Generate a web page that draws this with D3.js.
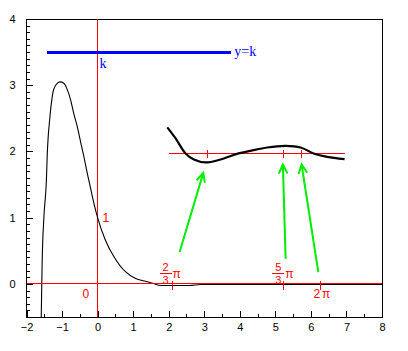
<!DOCTYPE html>
<html lang="en">
<head>
    <meta charset="UTF-8">
    <title>y=k</title>
    <script src="https://d3js.org/d3.v7.min.js"></script>
    <style>
        body { margin: 0; background: #fff; }
        .tick text { font-family: "Liberation Sans", Arial, sans-serif; font-size: 11px; fill: #000; }
        .tick line, .crisp { shape-rendering: crispEdges; }
        .red-label { font-family: "Liberation Sans", Arial, sans-serif; fill: red; }
        .blue-label { font-family: "Liberation Serif", "Times New Roman", serif; fill: blue; font-size: 14px; }
    </style>
</head>
<body>
    <svg width="408" height="351"></svg>
    <script>
        // main curve
        const curveX = [-1.585, -1.57, -1.56, -1.51, -1.44, -1.415, -1.39, -1.35, -1.30, -1.26, -1.18, -1.06, -0.95, -0.85, -0.76, -0.67, -0.57, -0.48, -0.385, -0.29, -0.2, -0.1, 0, 0.22, 0.46, 0.79, 1.07, 1.35, 1.55, 1.78, 2.1, 2.59, 2.9, 4, 6, 8];
        const curveY = [-0.5, 0, 0.31, 1.01, 1.57, 1.97, 2.22, 2.47, 2.73, 2.88, 3.0, 3.05, 3.03, 2.93, 2.78, 2.57, 2.37, 2.15, 1.92, 1.67, 1.45, 1.21, 1.0, 0.66, 0.41, 0.18, 0.08, 0.04, 0.01, -0.025, -0.025, -0.025, -0.01, -0.01, -0.01, -0.01];
        // magnified tail (inset)
        const insetX = [1.96, 2.194, 2.475, 2.709, 3.038, 3.46, 3.966, 4.30, 4.77, 5.288, 5.71, 6.076, 6.46, 6.948];
        const insetY = [2.363, 2.197, 1.970, 1.879, 1.834, 1.879, 1.970, 2.009, 2.06, 2.085, 2.06, 1.970, 1.918, 1.884];
        const insetLine = { x0: 2.0, x1: 6.95, y: 1.966 };
        const insetTicks = [3.086, 5.24, 5.73];
        // y = k line
        const kLine = { x0: -1.415, x1: 3.76, y: 3.5 };
        // special x positions on the axis: 2π/3, 5π/3, 2π
        const piTicks = [2 * Math.PI / 3, 5 * Math.PI / 3, 2 * Math.PI];
        // green arrows: tail -> head
        const arrows = [
            { x0: 2.307, y0: 0.481, x1: 2.973, y1: 1.676 },
            { x0: 5.289, y0: 0.381, x1: 5.212, y1: 1.803 },
            { x0: 6.208, y0: 0.179, x1: 5.738, y1: 1.803 }
        ];
        const xMajor = [-2, -1, 0, 1, 2, 3, 4, 5, 6, 7, 8];
        const xMinor = d3.range(-1.5, 8, 1);
        const yMajor = [0, 1, 2, 3, 4];
        const yMinor = d3.range(-0.5, 4.001, 0.1).map(v => +v.toFixed(1)).filter(v => !yMajor.includes(v));

        const svg = d3.select("svg");
        const x = d3.scaleLinear().domain([-2, 8]).range([26.5, 382]);
        const y = d3.scaleLinear().domain([-0.5, 4]).range([317, 19]);

        // axes
        svg.append("g")
            .attr("transform", "translate(0,317)")
            .call(d3.axisBottom(x).tickValues(xMajor).tickSize(-6).tickPadding(6).tickFormat(d3.format("d")))
            .call(g => g.select(".domain").remove());
        svg.append("g")
            .attr("transform", "translate(0,317)")
            .call(d3.axisBottom(x).tickValues(xMinor).tickSize(-3).tickFormat(""))
            .call(g => g.select(".domain").remove());
        svg.append("g")
            .attr("transform", "translate(26.5,0)")
            .call(d3.axisLeft(y).tickValues(yMajor).tickSize(-6).tickPadding(11).tickFormat(d3.format("d")))
            .call(g => g.select(".domain").remove());
        svg.append("g")
            .attr("transform", "translate(26.5,0)")
            .call(d3.axisLeft(y).tickValues(yMinor).tickSize(-3).tickFormat(""))
            .call(g => g.select(".domain").remove());

        svg.append("rect").attr("class", "crisp")
            .attr("x", x(-2)).attr("y", y(4))
            .attr("width", x(8) - x(-2)).attr("height", y(-0.5) - y(4))
            .attr("fill", "none").attr("stroke", "#000").attr("stroke-width", 1);

        // red coordinate axes
        svg.append("line").attr("class", "crisp")
            .attr("x1", x(0)).attr("x2", x(0)).attr("y1", y(4)).attr("y2", y(-0.5))
            .attr("stroke", "red");
        const line = d3.line().x(d => x(d[0])).y(d => y(d[1])).curve(d3.curveMonotoneX);

        // main curve
        svg.append("path")
            .datum(d3.zip(curveX, curveY))
            .attr("d", line)
            .attr("fill", "none").attr("stroke", "#000").attr("stroke-width", 1.1);

        svg.append("line").attr("class", "crisp")
            .attr("x1", x(-2)).attr("x2", x(8)).attr("y1", y(0)).attr("y2", y(0))
            .attr("stroke", "red");

        // ticks at 2π/3, 5π/3, 2π
        svg.selectAll(".pi-tick")
            .data(piTicks)
            .enter().append("line").attr("class", "crisp")
            .attr("x1", d => x(d)).attr("x2", d => x(d))
            .attr("y1", y(0) - 3).attr("y2", y(0) + 6)
            .attr("stroke", "red");

        // inset
        svg.append("line").attr("class", "crisp")
            .attr("x1", x(insetLine.x0)).attr("x2", x(insetLine.x1))
            .attr("y1", y(insetLine.y)).attr("y2", y(insetLine.y))
            .attr("stroke", "red");
        svg.selectAll(".inset-tick")
            .data(insetTicks)
            .enter().append("line").attr("class", "crisp")
            .attr("x1", d => x(d)).attr("x2", d => x(d))
            .attr("y1", y(insetLine.y) - 4).attr("y2", y(insetLine.y) + 4)
            .attr("stroke", "red");
        svg.append("path")
            .datum(d3.zip(insetX, insetY))
            .attr("d", d3.line().x(d => x(d[0])).y(d => y(d[1])).curve(d3.curveCatmullRom))
            .attr("fill", "none").attr("stroke", "#000").attr("stroke-width", 2.2);

        // y = k
        svg.append("line").attr("class", "crisp")
            .attr("x1", x(kLine.x0)).attr("x2", x(kLine.x1))
            .attr("y1", y(kLine.y)).attr("y2", y(kLine.y))
            .attr("stroke", "blue").attr("stroke-width", 3);
        svg.append("text").attr("class", "blue-label")
            .attr("x", x(kLine.x1) + 3).attr("y", y(kLine.y) + 4)
            .text("y=k");
        svg.append("text").attr("class", "blue-label")
            .attr("x", x(0) + 2).attr("y", y(kLine.y) + 16)
            .text("k");

        // arrows
        arrows.forEach(a => {
            const x0 = x(a.x0), y0 = y(a.y0), x1 = x(a.x1), y1 = y(a.y1);
            const ang = Math.atan2(y1 - y0, x1 - x0);
            const len = 10, spread = 0.45;
            const g = svg.append("g").attr("stroke", "#00ee00").attr("stroke-width", 2).attr("fill", "none");
            g.append("line").attr("x1", x0).attr("y1", y0).attr("x2", x1).attr("y2", y1);
            g.append("path").attr("d",
                `M${x1 - len * Math.cos(ang - spread)},${y1 - len * Math.sin(ang - spread)}L${x1},${y1}L${x1 - len * Math.cos(ang + spread)},${y1 - len * Math.sin(ang + spread)}`);
        });

        // red labels
        svg.append("text").attr("class", "red-label").attr("font-size", 12)
            .attr("x", x(0) - 15).attr("y", y(0) + 14).text("0");
        svg.append("text").attr("class", "red-label").attr("font-size", 12)
            .attr("x", x(0) + 5).attr("y", y(1) + 4).text("1");

        function fraction(px, num) {
            const g = svg.append("g").attr("class", "red-label");
            g.append("text").attr("x", px).attr("y", y(0) - 13).attr("text-anchor", "middle").attr("font-size", 11).text(num);
            g.append("line").attr("class", "crisp").attr("x1", px - 6).attr("x2", px + 6).attr("y1", y(0) - 10.5).attr("y2", y(0) - 10.5).attr("stroke", "red");
            g.append("text").attr("x", px).attr("y", y(0) + 0.5).attr("text-anchor", "middle").attr("font-size", 11).text("3");
            g.append("text").attr("x", px + 7).attr("y", y(0) - 6).attr("font-size", 12).text("π");
        }
        fraction(x(piTicks[0]) - 6.5, "2");
        fraction(x(piTicks[1]) - 5.5, "5");
        svg.append("text").attr("class", "red-label").attr("font-size", 12)
            .attr("x", x(piTicks[2]) - 7.5).attr("y", y(0) + 14).text("2");
        svg.append("text").attr("class", "red-label").attr("font-size", 12)
            .attr("x", x(piTicks[2]) + 1).attr("y", y(0) + 14).text("π");
    </script>
</body>
</html>
